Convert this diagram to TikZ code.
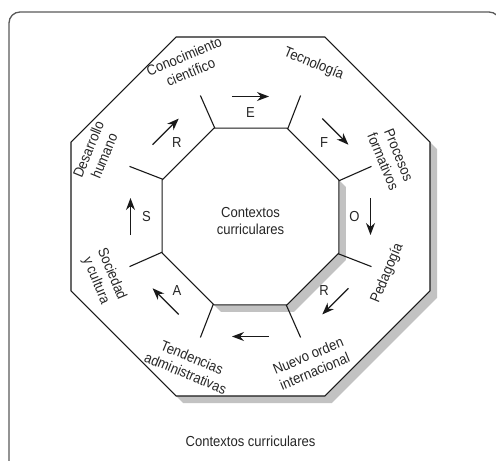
\documentclass[tikz,border=0pt]{standalone}
\usepackage{fontspec}
\setmainfont{Liberation Sans}[FakeStretch=0.9]
\usetikzlibrary{arrows.meta, calc, positioning, shapes.geometric, shadows}

\tikzset{
	octa/.style={regular polygon, regular polygon sides=8, draw=black!90, line width=1.1pt, fill=white, inner sep=0pt, outer sep=0pt,
		drop shadow={shadow xshift=7pt, shadow yshift=-7pt, fill=black!24, opacity=1}},
	sector/.style={font=\fontsize{14.5}{17}\selectfont, text=black!85, align=center, inner sep=0pt},
	tag/.style={font=\fontsize{14.5}{17}\selectfont, text=black!85, inner sep=0pt},
	spoke/.style={draw=black!90, line width=1.1pt},
	flow/.style={-{Stealth[length=12pt, width=9pt]}, line width=1.3pt, black!90}
}

\begin{document}
\begin{tikzpicture}[x=1pt, y=1pt]
	\useasboundingbox (-250.5,-244.5) rectangle (245.5,216.5);
	\begin{scope}
		\clip (-250.5,-244.5) rectangle (245.5,216.5);
		\draw[black!65, line width=1.3pt, rounded corners=11pt] (-241.5,204.5) rectangle (249.5,-258.5);
	\end{scope}
	
	\node[octa, minimum size=388.6pt] (outer) at (0,0) {};
	\node[octa, minimum size=191.2pt] (inner) at (0,0) {};
	\node[sector, font=\fontsize{14.5}{17.5}\selectfont] (core) at (0,-4.5) {Contextos\\curriculares};
	
	% spokes
	\foreach \a [count=\i] in {22.5,67.5,...,337.5} {
		\coordinate (tip\i) at (\a:131);
		\draw[spoke] (inner.\a) -- (tip\i);
	}
	
	\foreach \a/\r/\rot/\txt [count=\i] in {112.5/165/22.5/{Conocimiento\\científico}, 67.5/165/-22.5/Tecnología,
		22.5/152/-67.5/{Procesos\\formativos}, -22.5/148/67.5/Pedagogía, -67.5/159/22.5/{Nuevo orden\\internacional},
		-112.5/161/-22.5/{Tendencias\\administrativas}, -157.5/159/-67.5/{Sociedad\\y cultura}, 157.5/167/67.5/{Desarrollo\\humano}}
		\node[sector, rotate=\rot] (lab\i) at (\a:\r) {\txt};
	
	\foreach \a in {90,45,0,-45,-90,-135,180,135}
		\draw[flow, rotate=\a] (120,18.5) -- (120,-18.5);
	\foreach \a/\l [count=\i] in {90/E, 45/F, 0/O, -45/R, -135/A, 180/S, 135/R}
		\node[tag] (let\i) at (\a:104) {\l};
	
	\node[tag] (caption) at (0,-224.5) {Contextos curriculares};
\end{tikzpicture}
\end{document}
